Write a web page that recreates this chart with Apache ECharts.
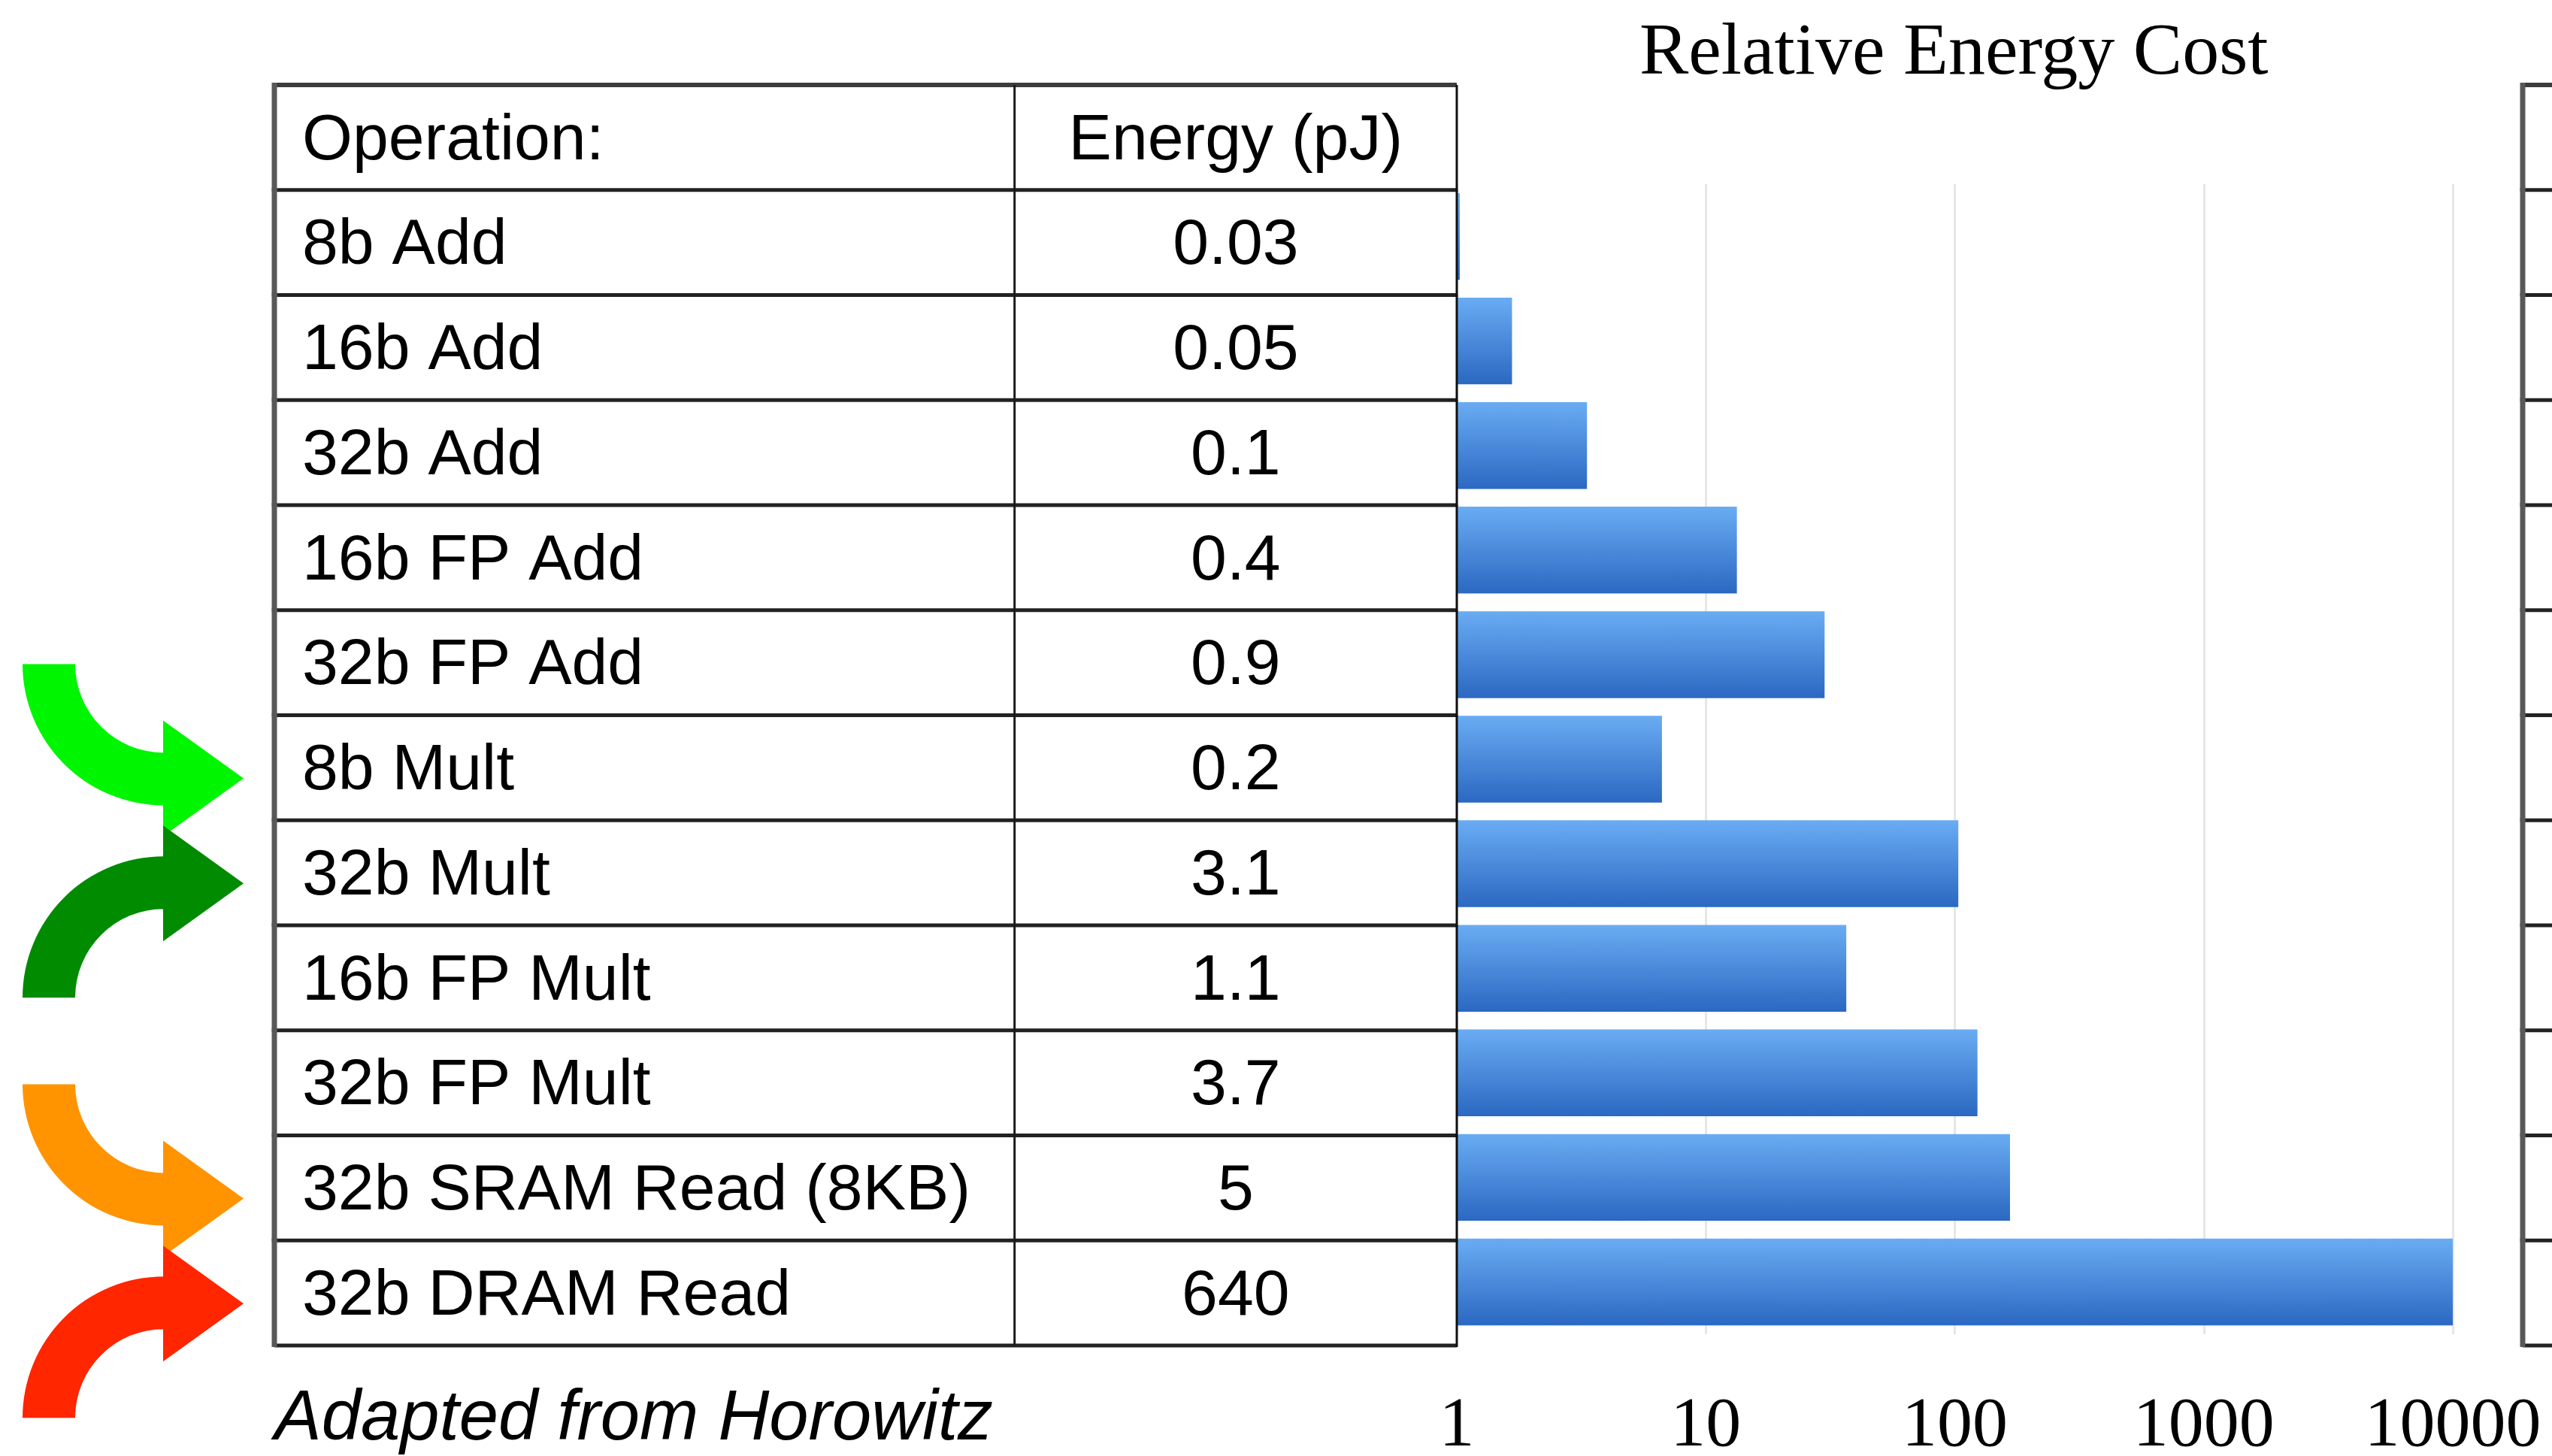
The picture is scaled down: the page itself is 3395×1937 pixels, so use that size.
<!DOCTYPE html>
<html>
<head>
<meta charset="utf-8">
<title>Relative Energy Cost</title>
<script src="https://cdn.jsdelivr.net/npm/echarts@6/dist/echarts.min.js"></script>
<style>
  html, body { margin: 0; padding: 0; background: #ffffff; }
  #chart { width: 3395px; height: 1937px; }
</style>
</head>
<body>
<div id="chart"></div>
<script>
// ---- data ----
const operations = [
  '8b Add', '16b Add', '32b Add', '16b FP Add', '32b FP Add',
  '8b Mult', '32b Mult', '16b FP Mult', '32b FP Mult',
  '32b SRAM Read (8KB)', '32b DRAM Read'
];
const energyPJ = [0.03, 0.05, 0.1, 0.4, 0.9, 0.2, 3.1, 1.1, 3.7, 5, 640];
const tableHeader = ['Operation:', 'Energy (pJ)'];
const costTicks = [1, 10, 100, 1000, 10000];
const highlightedOps = ['8b Mult', '32b Mult', '32b SRAM Read (8KB)', '32b DRAM Read'];
const highlightColors = ['#00f500', '#008b00', '#ff9300', '#ff2600'];
const highlightFromAbove = [true, false, true, false];
const chartTitle = 'Relative Energy Cost';
const sourceNote = 'Adapted from Horowitz';

// cost of each operation relative to the cheapest one (8b Add)
const relativeCost = energyPJ.map(e => e / energyPJ[0]);

// table rows: header + one row per operation
const tableRowNames = [tableHeader[0]].concat(operations);
const tableRowValues = [tableHeader[1]].concat(energyPJ.map(e => String(e)));

// ---- styling constants ----
const SANS = '"Liberation Sans", Arial, Helvetica, sans-serif';
const SERIF = '"Liberation Serif", "Times New Roman", serif';
const COL_SPLIT = 0.626;      // share of the table width used by the first column
const TEXT_INSET = 37;
const TEXT_SHIFT = 5;         // optical offset of the cell text below the row centre
const ARROW = { reach: 106, headLen: 107, headHalf: 77, centreDrop: 152, outer: 188, inner: 118, gap: 41, drop: 14 };

function tableRenderer(opts) {
  return function (params, api) {
    const idx = api.value(1);
    const left = api.coord([0, idx]);
    const right = api.coord([1, idx]);
    const h = api.size([0, 1])[1];
    const cy = left[1];
    const top = cy - h / 2, bottom = cy + h / 2;
    const x0 = left[0], x1 = right[0];
    const children = [];
    if (params.dataIndex === 0) {
      children.push({ type: 'line', shape: { x1: x0, y1: top, x2: x1, y2: top },
        style: { stroke: '#3c3c3c', lineWidth: 6 } });
    }
    children.push({ type: 'line', shape: { x1: x0, y1: bottom, x2: x1, y2: bottom },
      style: { stroke: '#222222', lineWidth: 5 } });
    children.push({ type: 'line', shape: { x1: x0, y1: top - 3, x2: x0, y2: bottom + 2 },
      style: { stroke: '#585858', lineWidth: 7 } });
    if (opts.withCells) {
      const xm = x0 + (x1 - x0) * COL_SPLIT;
      children.push({ type: 'line', shape: { x1: xm, y1: top, x2: xm, y2: bottom },
        style: { stroke: '#1a1a1a', lineWidth: 3 } });
      children.push({ type: 'line', shape: { x1: x1, y1: top, x2: x1, y2: bottom + 2 },
        style: { stroke: '#111111', lineWidth: 3 } });
      children.push({ type: 'text', x: x0 + TEXT_INSET, y: cy + TEXT_SHIFT,
        style: { text: tableRowNames[params.dataIndex], fill: '#000', fontFamily: SANS,
                 fontSize: 86, align: 'left', verticalAlign: 'middle' } });
      children.push({ type: 'text', x: (xm + x1) / 2, y: cy + TEXT_SHIFT,
        style: { text: tableRowValues[params.dataIndex], fill: '#000', fontFamily: SANS,
                 fontSize: 86, align: 'center', verticalAlign: 'middle' } });
    }
    return { type: 'group', children: children };
  };
}

function arrowPath(tipX, tipY, fromAbove) {
  const s = fromAbove ? -1 : 1;
  const cx = tipX - ARROW.reach, cy = tipY + s * ARROW.centreDrop;
  const ro = ARROW.outer, ri = ARROW.inner;
  const hx = tipX - ARROW.headLen, hh = ARROW.headHalf;
  const yo = cy - s * ro, yi = cy - s * ri;
  const sweepOut = fromAbove ? 0 : 1, sweepIn = 1 - sweepOut;
  return 'M' + (cx - ro) + ',' + cy +
    ' A' + ro + ',' + ro + ' 0 0 ' + sweepOut + ' ' + cx + ',' + yo +
    ' L' + hx + ',' + yo +
    ' L' + hx + ',' + (tipY - s * hh) +
    ' L' + tipX + ',' + tipY +
    ' L' + hx + ',' + (tipY + s * hh) +
    ' L' + hx + ',' + yi +
    ' L' + cx + ',' + yi +
    ' A' + ri + ',' + ri + ' 0 0 ' + sweepIn + ' ' + (cx - ri) + ',' + cy + ' Z';
}

const chart = echarts.init(document.getElementById('chart'), null, { renderer: 'canvas' });

const option = {
  backgroundColor: '#ffffff',
  animation: false,
  title: [
    { text: chartTitle, left: 2181, top: 23, padding: 0,
      textStyle: { fontFamily: SERIF, fontSize: 98, fontWeight: 'normal', color: '#000', lineHeight: 98 } },
    { text: sourceNote, left: 365, top: 1842, padding: 0,
      textStyle: { fontFamily: SANS, fontStyle: 'italic', fontSize: 94, fontWeight: 'normal', color: '#000', lineHeight: 94 } }
  ],
  grid: [
    { left: 365, top: 113, width: 1573, height: 1677, outerBoundsMode: 'none' },
    { left: 1938, top: 245, width: 1325, height: 1530, outerBoundsMode: 'none' },
    { left: 3356, top: 113, width: 300, height: 1677, outerBoundsMode: 'none' }
  ],
  xAxis: [
    { gridIndex: 0, type: 'value', min: 0, max: 1, show: false },
    { gridIndex: 1, type: 'log', logBase: 10, min: 1, max: 10000,
      axisLine: { show: false }, axisTick: { show: false },
      splitLine: { show: true, lineStyle: { color: '#e6e6e6', width: 3 } },
      axisLabel: {
        margin: 76, color: '#000', fontFamily: SERIF, fontSize: 94, lineHeight: 94,
        formatter: function (v) {
          const t = costTicks.find(c => Math.abs(Math.log10(c) - Math.log10(v)) < 1e-6);
          return t === undefined ? '' : String(t);
        }
      } },
    { gridIndex: 2, type: 'value', min: 0, max: 1, show: false }
  ],
  yAxis: [
    { gridIndex: 0, type: 'category', data: tableRowNames, inverse: true, show: false },
    { gridIndex: 1, type: 'category', data: operations, inverse: true, show: false },
    { gridIndex: 2, type: 'category', data: tableRowNames, inverse: true, show: false }
  ],
  series: [
    {
      name: 'Relative Energy Cost', type: 'bar', xAxisIndex: 1, yAxisIndex: 1,
      data: relativeCost, barCategoryGap: '17%', barMinHeight: 4, clip: true, z: 2,
      itemStyle: {
        color: { type: 'linear', x: 0, y: 0, x2: 0, y2: 1,
          colorStops: [{ offset: 0, color: '#6aacf3' }, { offset: 1, color: '#2b68c2' }] }
      }
    },
    {
      name: 'Energy table', type: 'custom', xAxisIndex: 0, yAxisIndex: 0, z: 5,
      data: tableRowNames.map((n, i) => [0, i]), encode: { x: 0, y: 1 },
      renderItem: tableRenderer({ withCells: true })
    },
    {
      name: 'Next table', type: 'custom', xAxisIndex: 2, yAxisIndex: 2, z: 5,
      data: tableRowNames.map((n, i) => [0, i]), encode: { x: 0, y: 1 },
      renderItem: tableRenderer({ withCells: false })
    },
    {
      name: 'Highlights', type: 'custom', xAxisIndex: 0, yAxisIndex: 0, z: 6,
      data: highlightedOps.map(op => [0, tableRowNames.indexOf(op)]), encode: { x: 0, y: 1 },
      renderItem: function (params, api) {
        const p = api.coord([0, api.value(1)]);
        const tipX = p[0] - ARROW.gap, tipY = p[1] + ARROW.drop;
        return { type: 'path',
          shape: { pathData: arrowPath(tipX, tipY, highlightFromAbove[params.dataIndex]) },
          style: { fill: highlightColors[params.dataIndex], stroke: null } };
      }
    }
  ]
};

chart.setOption(option);
</script>
</body>
</html>
